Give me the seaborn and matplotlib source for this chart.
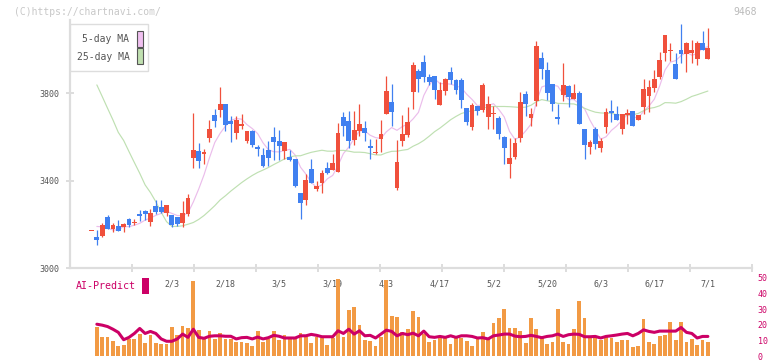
import numpy as np
import pandas as pd
import matplotlib
matplotlib.use("Agg")
import matplotlib.pyplot as plt
from matplotlib.patches import Rectangle
import seaborn as sns

# --- data (daily candles, index 0 .. 115) ---
opens = [3169, 3142, 3148, 3233, 3178, 3192, 3186, 3224, 3204, 3249,
         3262, 3212, 3283, 3279, 3251, 3242, 3233, 3204, 3245, 3504,
         3535, 3520, 3596, 3699, 3724, 3750, 3670, 3619, 3651, 3580,
         3626, 3553, 3516, 3539, 3599, 3580, 3536, 3507, 3498, 3343,
         3312, 3452, 3362, 3390, 3457, 3448, 3439, 3690, 3672, 3585,
         3626, 3640, 3557, 3526, 3589, 3705, 3759, 3366, 3580, 3608,
         3805, 3900, 3942, 3873, 3878, 3745, 3809, 3896, 3859, 3859,
         3731, 3645, 3741, 3722, 3690, 3704, 3686, 3599, 3475, 3507,
         3594, 3795, 3686, 3763, 3960, 3905, 3841, 3690, 3791, 3832,
         3773, 3800, 3635, 3553, 3635, 3549, 3645, 3718, 3704, 3635,
         3699, 3718, 3677, 3736, 3786, 3823, 3873, 3983, 3992, 3932,
         3997, 3978, 3983, 3955, 4028, 3955]
highs = [3169, 3174, 3204, 3242, 3206, 3219, 3206, 3229, 3222, 3265,
         3265, 3270, 3311, 3311, 3288, 3242, 3233, 3306, 3338, 3710,
         3571, 3544, 3677, 3727, 3829, 3750, 3695, 3695, 3704, 3626,
         3631, 3564, 3547, 3580, 3645, 3631, 3576, 3539, 3498, 3343,
         3430, 3498, 3399, 3448, 3484, 3521, 3663, 3713, 3717, 3717,
         3750, 3672, 3589, 3589, 3676, 3878, 3841, 3585, 3699, 3736,
         3943, 3910, 3974, 3887, 3878, 3850, 3868, 3919, 3864, 3868,
         3731, 3754, 3741, 3846, 3786, 3741, 3695, 3603, 3594, 3594,
         3805, 3809, 3731, 4038, 3987, 3942, 3841, 3750, 3937, 3836,
         3841, 3809, 3635, 3585, 3645, 3594, 3731, 3768, 3741, 3704,
         3727, 3718, 3699, 3864, 3859, 3905, 3987, 4065, 4028, 3983,
         4115, 4033, 4042, 4038, 4083, 4097]
lows = [3169, 3105, 3143, 3180, 3163, 3171, 3163, 3186, 3198, 3215,
        3219, 3192, 3247, 3251, 3236, 3186, 3193, 3189, 3239, 3459,
        3459, 3475, 3578, 3646, 3692, 3628, 3578, 3588, 3635, 3570,
        3551, 3512, 3463, 3466, 3494, 3494, 3498, 3491, 3370, 3225,
        3286, 3390, 3350, 3344, 3431, 3448, 3439, 3603, 3549, 3562,
        3603, 3580, 3498, 3521, 3530, 3705, 3651, 3357, 3558, 3599,
        3727, 3805, 3850, 3836, 3773, 3745, 3791, 3841, 3795, 3731,
        3654, 3631, 3699, 3713, 3635, 3635, 3590, 3475, 3411, 3498,
        3576, 3695, 3649, 3741, 3864, 3768, 3718, 3658, 3763, 3736,
        3773, 3658, 3498, 3521, 3544, 3530, 3617, 3667, 3677, 3613,
        3658, 3649, 3677, 3704, 3713, 3805, 3864, 3946, 3946, 3864,
        3937, 3896, 3937, 3928, 3997, 3955]
closes = [3169, 3128, 3195, 3180, 3197, 3171, 3203, 3195, 3212, 3240,
          3245, 3251, 3255, 3257, 3288, 3197, 3203, 3251, 3320, 3539,
          3491, 3530, 3635, 3673, 3750, 3655, 3660, 3677, 3660, 3626,
          3564, 3546, 3466, 3504, 3578, 3559, 3576, 3495, 3374, 3299,
          3402, 3390, 3376, 3434, 3436, 3480, 3617, 3649, 3580, 3631,
          3658, 3617, 3548, 3526, 3612, 3809, 3715, 3485, 3613, 3667,
          3928, 3864, 3873, 3850, 3814, 3814, 3864, 3859, 3814, 3768,
          3667, 3745, 3718, 3836, 3750, 3706, 3613, 3549, 3503, 3571,
          3759, 3750, 3704, 4015, 3910, 3800, 3750, 3681, 3836, 3782,
          3800, 3658, 3562, 3576, 3567, 3581, 3713, 3708, 3677, 3704,
          3708, 3649, 3699, 3818, 3827, 3864, 3951, 4065, 3997, 3864,
          3978, 4028, 3997, 4028, 3997, 4006]

# moving averages before a full window exists (index 1..)
ma5_head = [3190, 3188, 3182]
ma25_head = [3837, 3784, 3730, 3677, 3620, 3583, 3532, 3482, 3433, 3380,
             3345, 3303, 3255, 3212, 3190, 3190, 3193, 3200, 3208, 3222,
             3240, 3262, 3285]

# lower panel, index 1 .. 115
volume = [18.4, 12.1, 12.1, 9.6, 6.5, 7.1, 10.9, 10.9, 14.0, 8.4,
          13.4, 8.4, 7.7, 7.7, 18.4, 13.4, 19.0, 17.8, 47.9, 16.5,
          10.9, 15.9, 10.9, 14.6, 10.9, 10.9, 9.0, 9.0, 8.4, 6.5,
          15.9, 9.0, 10.9, 15.9, 10.3, 13.4, 10.9, 10.9, 14.6, 12.1,
          8.4, 12.1, 11.5, 7.1, 11.5, 49.2, 12.1, 29.1, 31.6, 19.7,
          10.3, 9.6, 6.5, 12.1, 48.5, 25.3, 24.7, 15.3, 17.1, 28.5,
          24.7, 14.0, 9.0, 10.3, 11.5, 12.1, 7.7, 11.5, 11.5, 9.6,
          6.5, 11.5, 15.3, 11.5, 20.9, 24.1, 29.7, 17.8, 17.8, 15.9,
          8.4, 24.1, 17.1, 12.7, 7.7, 9.0, 30.3, 9.0, 7.7, 17.1,
          35.4, 24.1, 12.1, 11.5, 10.3, 12.1, 11.5, 9.0, 10.3, 10.3,
          5.9, 6.5, 23.4, 9.0, 7.7, 12.7, 13.4, 21.5, 10.3, 21.5,
          9.0, 10.9, 7.1, 10.3, 9.0]
ai_predict = [20.3, 19.7, 18.8, 17.1, 15.1, 10.4, 11.9, 14.4, 17.6, 14.4,
              15.7, 14.4, 10.9, 9.4, 9.4, 10.9, 14.0, 11.9, 17.1, 11.9,
              11.3, 12.6, 12.9, 12.9, 12.6, 12.6, 10.9, 11.7, 11.9, 10.9,
              12.1, 10.9, 11.7, 13.2, 12.6, 11.5, 11.5, 11.5, 12.9, 12.9,
              13.8, 13.2, 12.3, 12.3, 12.3, 16.1, 14.4, 17.1, 14.0, 16.1,
              12.9, 13.2, 11.5, 14.0, 16.5, 15.7, 12.9, 14.4, 13.6, 14.6,
              12.9, 15.9, 12.3, 11.9, 12.5, 11.9, 12.9, 11.9, 12.9, 12.9,
              12.5, 11.5, 11.7, 10.9, 12.9, 13.4, 14.0, 14.0, 12.7, 12.3,
              12.5, 13.2, 12.5, 11.7, 12.5, 12.9, 14.0, 12.5, 13.6, 14.0,
              13.8, 12.3, 12.3, 12.5, 11.5, 12.5, 12.9, 13.4, 14.0, 14.4,
              12.9, 14.4, 16.7, 15.7, 15.1, 15.9, 15.9, 15.9, 15.9, 18.2,
              15.1, 14.4, 11.5, 12.5, 12.5]

date_labels = ["2/3", "2/18", "3/5", "3/19", "4/3", "4/17",
               "5/2", "5/20", "6/3", "6/17", "7/1"]
date_pos = [15, 25, 35, 45, 55, 65, 75, 85, 95, 105, 115]

RED = "#f0503c"
BLUE = "#4080f0"
GRID = "#dddddd"
TXT = "#555555"
AI_COL = "#cc0066"


def main():
    sns.set_theme(style="white")
    plt.rcParams['font.family'] = ['DejaVu Sans Mono', 'DejaVu Sans']

    df = pd.DataFrame({"open": opens, "high": highs, "low": lows, "close": closes})
    df["idx"] = np.arange(len(df))
    df["ma5"] = df["close"].rolling(5).mean()
    df.loc[1:len(ma5_head), "ma5"] = ma5_head
    df["ma25"] = df["close"].rolling(25).mean()
    df.loc[1:len(ma25_head), "ma25"] = ma25_head

    low_df = pd.DataFrame({"idx": np.arange(1, len(volume) + 1),
                           "volume": volume, "ai": ai_predict})

    W, H = 772, 361
    fig = plt.figure(figsize=(W / 100, H / 100), dpi=100)
    ax = fig.add_axes([70 / W, 1 - 268 / H, 682 / W, 248 / H])
    ax2 = fig.add_axes([70 / W, 1 - 356 / H, 682 / W, 78.3 / H])

    x_left, x_right = -4.01, 123.23

    # --- candles ---
    up = df["close"] >= df["open"]
    colors = np.where(up, RED, BLUE)
    ax.vlines(df["idx"], df["low"], df["high"], colors=colors, lw=0.9, zorder=3)
    body_low = df[["open", "close"]].min(axis=1)
    body_h = (df["close"] - df["open"]).abs().clip(lower=4)
    ax.bar(df["idx"], body_h, bottom=body_low, width=0.9, color=colors,
           linewidth=0, zorder=4)

    sns.lineplot(data=df, x="idx", y="ma5", color="#ebbdeb", lw=0.85, ax=ax, zorder=2)
    sns.lineplot(data=df, x="idx", y="ma25", color="#bfe0b2", lw=0.85, ax=ax, zorder=2)

    ax.set_xlim(x_left, x_right)
    ax.set_ylim(3000, 3000 + 248 * 800 / 175)
    ax.set_xlabel("")
    ax.set_ylabel("")
    for s in ["top", "right"]:
        ax.spines[s].set_visible(False)
    for s in ["left", "bottom"]:
        ax.spines[s].set_color(GRID)
        ax.spines[s].set_linewidth(1.6)

    ax.set_yticks([3000, 3400, 3800])
    ax.tick_params(axis="y", direction="inout", length=6, width=1.4, color=GRID,
                   labelsize=6, labelcolor=TXT, pad=4.5, left=True)
    ax.set_xticks(np.linspace(x_left, x_right, 12)[1:])
    ax.set_xticks(date_pos, labels=date_labels, minor=True)
    ax.tick_params(axis="x", which="major", direction="inout", length=6, width=1.4,
                   color=GRID, labelbottom=False, bottom=True)
    ax.tick_params(axis="x", which="minor", length=0, pad=8, labelsize=6,
                   labelcolor=TXT)

    # --- lower panel ---
    sns.barplot(data=low_df, x="idx", y="volume", native_scale=True, color="#f29a44",
                saturation=1, width=0.7, errorbar=None, linewidth=0, ax=ax2)
    sns.lineplot(data=low_df, x="idx", y="ai", color=AI_COL, lw=2.2, ax=ax2)
    ax2.set_xlim(x_left, x_right)
    ax2.set_ylim(0, 50)
    ax2.set_xlabel("")
    ax2.set_ylabel("")
    ax2.set_xticks([])
    ax2.set_yticks([0, 10, 20, 30, 40, 50])
    ax2.yaxis.tick_right()
    ax2.tick_params(axis="y", length=0, pad=4, labelsize=6, labelcolor=AI_COL)
    for s in ax2.spines.values():
        s.set_visible(False)
    ax2.patch.set_alpha(0)

    # --- legend box ---
    def fx(x):
        return x / W

    def fy(y):
        return 1 - y / H

    fig.add_artist(Rectangle((fx(70), fy(71)), 78 / W, 47 / H, transform=fig.transFigure,
                             facecolor="white", edgecolor=GRID, lw=1.0))
    fig.add_artist(Rectangle((fx(136.5), fy(46.5)), 6 / W, 15 / H, transform=fig.transFigure,
                             facecolor="#f0c0f0", edgecolor="#555555", lw=0.8))
    fig.add_artist(Rectangle((fx(136.5), fy(63.5)), 6 / W, 15 / H, transform=fig.transFigure,
                             facecolor="#c0e0b0", edgecolor="#555555", lw=0.8))
    fig.text(fx(129.5), fy(39.5), "5-day MA", ha="right", va="center", fontsize=7,
             color=TXT)
    fig.text(fx(129.5), fy(57), "25-day MA", ha="right", va="center", fontsize=7,
             color=TXT)

    # --- AI-Predict label ---
    fig.text(fx(76), fy(286), "AI-Predict", ha="left", va="center", fontsize=7.2,
             color=AI_COL)
    fig.add_artist(Rectangle((fx(142), fy(293.5)), 7 / W, 16 / H, transform=fig.transFigure,
                             facecolor=AI_COL, edgecolor="none"))

    # --- header texts ---
    fig.text(fx(14), fy(12), "(C)https://chartnavi.com/", ha="left", va="center",
             fontsize=7, color="#c8c8c8")
    fig.text(fx(757), fy(12), "9468", ha="right", va="center", fontsize=7,
             color="#bbbbbb")

    fig.savefig("out.png", dpi=100)


if __name__ == "__main__":
    main()
